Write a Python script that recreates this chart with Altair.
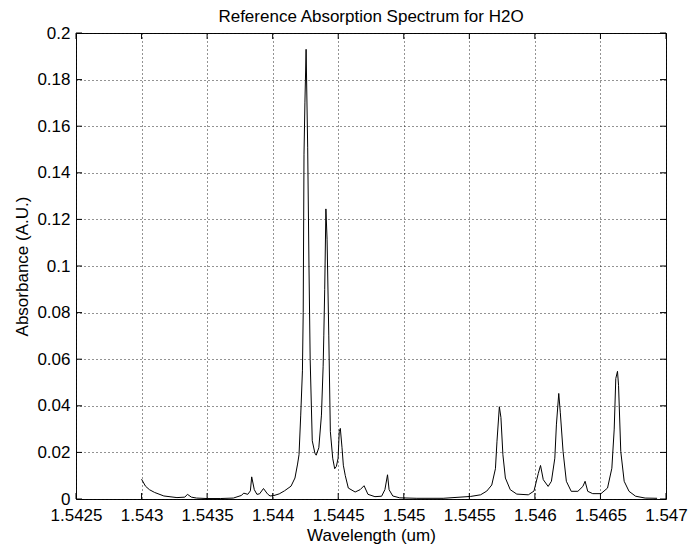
import altair as alt
import pandas as pd

wavelength = [
    1.54300, 1.54303, 1.54306, 1.54310, 1.54317, 1.54327, 1.54333, 1.54335, 1.54338, 1.54342,
    1.54350, 1.54360, 1.54370, 1.54376, 1.54378, 1.54381, 1.54383, 1.54384, 1.54386, 1.54388,
    1.54390, 1.54393, 1.54396, 1.54398, 1.54401, 1.54405, 1.54409, 1.54414, 1.54417, 1.54419,
    1.544201, 1.544214, 1.544227, 1.544233, 1.544239, 1.544246, 1.544255, 1.544267, 1.544277, 1.544286,
    1.544302, 1.544322, 1.544332, 1.544352, 1.544372, 1.544385, 1.544390, 1.544397, 1.544406, 1.544415,
    1.544428, 1.544440, 1.544458, 1.544473, 1.544486, 1.544499, 1.544508, 1.544516, 1.544529, 1.544539,
    1.544554, 1.544577, 1.544629, 1.544667, 1.544697, 1.544727, 1.544780, 1.544831, 1.544856, 1.544876,
    1.544888, 1.544916, 1.544969, 1.54510, 1.54530, 1.545510, 1.545586, 1.545633, 1.545671, 1.545699,
    1.545711, 1.545729, 1.545741, 1.545756, 1.545775, 1.545812, 1.545862, 1.545950, 1.545993, 1.546026,
    1.546043, 1.546064, 1.546101, 1.546126, 1.546152, 1.546164, 1.546182, 1.546194, 1.546215, 1.546240,
    1.546277, 1.546328, 1.546366, 1.546383, 1.546403, 1.546441, 1.546504, 1.546554, 1.546587, 1.546605,
    1.546617, 1.546630, 1.546638, 1.546655, 1.546681, 1.546718, 1.546768, 1.546841, 1.546932,
]
absorbance = [
    0.0085, 0.0055, 0.0040, 0.0028, 0.0013, 0.0006, 0.0008, 0.0020, 0.0008, 0.0004,
    0.0002, 0.0002, 0.0004, 0.0015, 0.0025, 0.0020, 0.0035, 0.0095, 0.0040, 0.0020,
    0.0022, 0.0045, 0.0022, 0.0013, 0.0015, 0.0022, 0.0035, 0.0055, 0.0090, 0.0150,
    0.0190, 0.0360, 0.0550, 0.0800, 0.1480, 0.1700, 0.1930, 0.1510, 0.1000, 0.0600,
    0.0250, 0.0197, 0.0188, 0.0220, 0.0360, 0.0570, 0.0700, 0.0900, 0.1245, 0.1115,
    0.0700, 0.0290, 0.0175, 0.0130, 0.0140, 0.0175, 0.0290, 0.0303, 0.0220, 0.0145,
    0.0100, 0.0047, 0.0030, 0.0040, 0.0057, 0.0020, 0.0010, 0.0012, 0.0040, 0.0104,
    0.0040, 0.0013, 0.0005, 0.0003, 0.0003, 0.0011, 0.0018, 0.0034, 0.0060, 0.0130,
    0.0248, 0.0396, 0.0350, 0.0190, 0.0090, 0.0040, 0.0021, 0.0018, 0.0034, 0.0110,
    0.0144, 0.0083, 0.0054, 0.0076, 0.0175, 0.0318, 0.0453, 0.0370, 0.0204, 0.0076,
    0.0033, 0.0033, 0.0054, 0.0076, 0.0033, 0.0023, 0.0023, 0.0047, 0.0132, 0.0300,
    0.0517, 0.0548, 0.0488, 0.0204, 0.0076, 0.0033, 0.0012, 0.0004, 0.0003,
]
x_ticks = [1.5425, 1.543, 1.5435, 1.544, 1.5445, 1.545, 1.5455, 1.546, 1.5465, 1.547]
y_ticks = [0, 0.02, 0.04, 0.06, 0.08, 0.1, 0.12, 0.14, 0.16, 0.18, 0.2]

W, H = 590, 466
FONT = "Liberation Sans"
FS = 17

df = pd.DataFrame({"w": wavelength, "a": absorbance})
dxt = pd.DataFrame({"w": x_ticks})
dyt = pd.DataFrame({"a": y_ticks})

xscale = alt.Scale(domain=[1.5425, 1.547], nice=False, zero=False)
yscale = alt.Scale(domain=[0, 0.2], nice=False, zero=False)

xaxis = alt.Axis(values=x_ticks, format="~g", title="Wavelength (um)",
                 titleX=W / 2, titleY=41, titleBaseline="alphabetic",
                 labelPadding=8, labelOverlap=False, labelFlush=False)
yaxis = alt.Axis(values=y_ticks, format="~g", title="Absorbance (A.U.)",
                 titleX=-49, titleY=H / 2, titleBaseline="alphabetic",
                 titleAngle=-90, titleAlign="center", labelPadding=6,
                 labelOverlap=False, labelFlush=False)

X = alt.X("w:Q", scale=xscale, axis=xaxis)
Y = alt.Y("a:Q", scale=yscale, axis=yaxis)

line = alt.Chart(df).mark_line(color="black", strokeWidth=1).encode(x=X, y=Y)

tick_bottom = alt.Chart(dxt).mark_rule(color="black").encode(
    x=X, y=alt.value(H), y2=alt.value(H - 6))
tick_top = alt.Chart(dxt).mark_rule(color="black").encode(
    x=X, y=alt.value(0), y2=alt.value(6))
tick_left = alt.Chart(dyt).mark_rule(color="black").encode(
    y=Y, x=alt.value(0), x2=alt.value(6))
tick_right = alt.Chart(dyt).mark_rule(color="black").encode(
    y=Y, x=alt.value(W), x2=alt.value(W - 6))

chart = alt.layer(line, tick_bottom, tick_top, tick_left, tick_right).properties(
    width=W, height=H,
    autosize=alt.AutoSizeParams(type="none"),
    padding={"left": 68, "top": 25, "right": 22, "bottom": 45},
    background="white",
    title=alt.TitleParams("Reference Absorption Spectrum for H2O", anchor="middle",
                          frame="group", font=FONT, fontSize=FS, fontWeight="normal",
                          color="black", baseline="alphabetic", offset=4, dy=19),
).configure_view(stroke="black", strokeWidth=1).configure_axis(
    labelFont=FONT, labelFontSize=FS, labelColor="black",
    titleFont=FONT, titleFontSize=FS, titleFontWeight="normal", titleColor="black",
    ticks=False, domain=False,
    grid=True, gridColor="#111", gridDash=[1, 3], gridWidth=1, gridOpacity=0.9,
)

chart.save("out.html", embed_options={"renderer": "svg", "actions": False})
